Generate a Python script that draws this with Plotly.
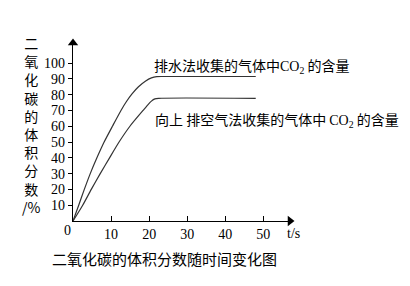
import plotly.graph_objects as go

# Data
t_water = [0, 1.5, 2.97, 4.53, 6.28, 8.18, 10.36, 12.6, 14.0, 15.5, 17.2, 19.0, 20.6, 22.0, 23.5, 48]
co2_water = [0, 10, 20, 30, 40, 50, 60, 70, 75.5, 80.5, 85.0, 88.5, 90.6, 91.4, 91.5, 91.5]
t_air = [0, 2.55, 4.8, 7.15, 9.6, 12.1, 14.95, 18.4, 19.6, 20.6, 21.5, 22.5, 48]
co2_air = [0, 10, 20, 30, 40, 50, 60, 70, 73.4, 75.9, 77.3, 77.7, 77.7]

x_ticks = [10, 20, 30, 40, 50]
y_ticks = [10, 20, 30, 40, 50, 60, 70, 80, 90, 100]
x_max = 57
y_max = 112.7

serif = "Liberation Serif, Times New Roman, serif"
cjk = "Noto Sans CJK SC, sans-serif"

fig = go.Figure()
for xs, ys in [(t_water, co2_water), (t_air, co2_air)]:
    fig.add_trace(go.Scatter(x=xs, y=ys, mode="lines",
                             line=dict(color="#333333", width=1.2, shape="spline", smoothing=0.6),
                             cliponaxis=False, showlegend=False))
# axis arrowheads
fig.add_trace(go.Scatter(x=[0], y=[y_max], mode="markers",
                         marker=dict(symbol="triangle-up", size=9, color="black"),
                         cliponaxis=False, showlegend=False))
fig.add_trace(go.Scatter(x=[x_max], y=[0], mode="markers",
                         marker=dict(symbol="triangle-right", size=9, color="black"),
                         cliponaxis=False, showlegend=False))

fig.update_layout(
    width=410, height=286,
    margin=dict(l=73, r=120, t=43, b=65),
    paper_bgcolor="white", plot_bgcolor="white",
    xaxis=dict(range=[0, x_max], tickvals=x_ticks, ticks="inside", ticklen=5,
               tickcolor="black", showline=True, linecolor="black", linewidth=1.3,
               showgrid=False, zeroline=False,
               tickfont=dict(family=serif, size=14, color="black")),
    yaxis=dict(range=[0, y_max], tickvals=y_ticks, ticks="outside", ticklen=4,
               tickcolor="black", showline=True, linecolor="black", linewidth=1.3,
               showgrid=False, zeroline=False, ticklabelstandoff=0,
               tickfont=dict(family=serif, size=14, color="black")),
    annotations=[
        dict(text="0", xref="paper", yref="paper", x=0, y=0, xshift=-6, yshift=-9,
             xanchor="center", yanchor="middle",
             showarrow=False, font=dict(family=serif, size=14, color="black")),
        dict(text="t/s", xref="x", yref="y", x=x_max, y=0, xshift=-5, yshift=-12,
             xanchor="left", yanchor="middle", showarrow=False,
             font=dict(family=serif, size=14, color="black")),
        dict(text="<br>".join(list("二氧化碳的体积分数")) + "<br>/%",
             xref="paper", yref="paper", x=(31 - 73) / 217, y=1, yshift=12,
             xanchor="center", yanchor="top", showarrow=False,
             font=dict(family=cjk, size=14, color="black")),
        dict(text="排水法收集的气体中<span style='font-family:Liberation Serif'>CO<sub>2</sub></span> 的含量",
             xref="x", yref="y", x=(151.7 - 73.3) / 3.8, y=(221 - 65) / 1.58,
             xanchor="left", yanchor="middle", showarrow=False,
             font=dict(family=cjk, size=14, color="black")),
        dict(text="向上 排空气法收集的气体中 <span style='font-family:Liberation Serif'>CO<sub>2</sub></span> 的含量",
             xref="x", yref="y", x=(153.3 - 73.3) / 3.8, y=(221 - 119) / 1.58,
             xanchor="left", yanchor="middle", showarrow=False,
             font=dict(family=cjk, size=14, color="black")),
        dict(text="二氧化碳的体积分数随时间变化图", xref="paper", yref="paper",
             x=(50 - 73) / 217, y=0, yshift=-(258 - 221), xanchor="left", yanchor="middle",
             showarrow=False, font=dict(family=cjk, size=15, color="black")),
    ],
)

fig.write_html("out.html")
